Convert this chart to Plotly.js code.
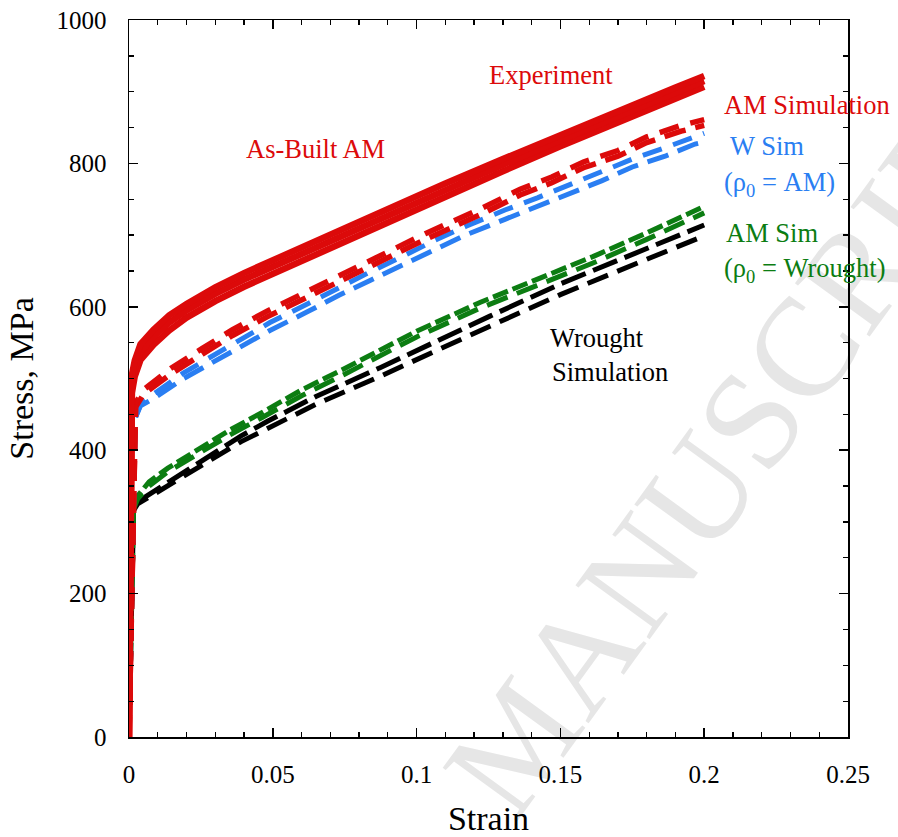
<!DOCTYPE html>
<html>
<head>
<meta charset="utf-8">
<script src="https://cdn.plot.ly/plotly-3.0.1.min.js"></script>
<style>html,body{margin:0;padding:0;background:#fff;}#chart{width:898px;height:837px;}</style>
</head>
<body>
<div id="chart"></div>
<script>
// ---- Experiment (As-Built AM), three solid red test curves ----
const expStrain = [0, 0.0003, 0.0006, 0.001, 0.002, 0.004, 0.0085, 0.014, 0.02, 0.03, 0.04, 0.05, 0.07, 0.09, 0.11, 0.13, 0.15, 0.17, 0.19, 0.2];
const expStress1 = [0, 220, 470, 505, 525, 548, 568, 588, 604, 627, 647, 665, 700, 737, 772, 806, 840, 874, 906, 922];
const expStress2 = [0, 210, 455, 492, 514, 537, 558, 578, 595, 618, 638, 656, 691, 728, 763, 798, 832, 866, 898, 915];
const expStress3 = [0, 200, 440, 480, 503, 526, 547, 567, 585, 608, 628, 646, 682, 719, 754, 789, 824, 858, 890, 907];

// ---- AM Simulation (red dashed) ----
const amSimStrain = [0, 0.0023, 0.005, 0.0145, 0.0255, 0.036, 0.048, 0.0585, 0.081, 0.103, 0.123, 0.136, 0.147, 0.158, 0.17, 0.18, 0.192, 0.2];
const amSimStress1 = [0, 466, 484, 514, 542, 568, 594, 615, 660, 702, 738, 764, 781, 802, 818, 837, 853, 861];
const amSimStress2 = [0, 460, 478, 506, 534, 560, 586, 607, 652, 694, 730, 756, 773, 794, 810, 829, 845, 853];

// ---- W Sim (rho0 = AM), blue dashed ----
const wSimStrain = [0, 0.0022, 0.004, 0.0085, 0.019, 0.0305, 0.041, 0.049, 0.062, 0.073, 0.084, 0.095, 0.106, 0.117, 0.1307, 0.142, 0.1533, 0.1645, 0.175, 0.1864, 0.1968, 0.2];
const wSimStress1 = [0, 445, 462, 472, 500, 525, 548, 567, 593, 616, 637, 658, 680, 700, 722, 740, 757, 776, 795, 810, 827, 830];
const wSimStress2 = [0, 445, 464, 478, 508, 535, 558, 578, 604, 627, 649, 670, 692, 712, 735, 752, 770, 788, 806, 822, 838, 842];

// ---- AM Sim (rho0 = Wrought), green dashed ----
const gSimStrain = [0, 0.0016, 0.003, 0.007, 0.0135, 0.024, 0.035, 0.046, 0.06, 0.075, 0.0873, 0.1, 0.122, 0.15, 0.1613, 0.18, 0.2];
const gSimStress1 = [0, 320, 336, 356, 375, 401, 428, 452, 484, 514, 540, 566, 606, 652, 670, 703, 740];
const gSimStress2 = [0, 318, 332, 350, 370, 395, 421, 445, 476, 506, 532, 558, 598, 643, 661, 694, 731];

// ---- Wrought Simulation, black dashed ----
const bSimStrain = [0, 0.0016, 0.003, 0.0085, 0.0185, 0.029, 0.039, 0.048, 0.065, 0.0873, 0.105, 0.1255, 0.15, 0.175, 0.2];
const bSimStress1 = [0, 318, 328, 342, 368, 395, 420, 440, 475, 515, 549, 587, 632, 673, 714];
const bSimStress2 = [0, 316, 325, 338, 362, 388, 412, 430, 464, 503, 536, 573, 617, 658, 699];

// ---- Axis ticks ----
const xTickVals = [0, 0.05, 0.1, 0.15, 0.2, 0.25];
const xTickText = ["0", "0.05", "0.1", "0.15", "0.2", "0.25"];
const yTickVals = [0, 200, 400, 600, 800, 1000];
const yTickText = ["0", "200", "400", "600", "800", "1000"];

const RED = '#dc0a0a', BLUE = '#2a7ef2', GREEN = '#0c7d12', BLACK = '#000000';
const DASH = '22px,10px';
const FONT = "'Liberation Serif', 'Times New Roman', serif";

function tr(x, y, color, dash, width) {
  return {x: x, y: y, type: 'scatter', mode: 'lines', hoverinfo: 'skip',
          line: {color: color, width: width, dash: dash}};
}

const traces = [
  tr(bSimStrain, bSimStress2, BLACK, DASH, 5),
  tr(bSimStrain, bSimStress1, BLACK, '26px,8px', 5),
  tr(gSimStrain, gSimStress2, GREEN, DASH, 5),
  tr(gSimStrain, gSimStress1, GREEN, '16px,5px', 5),
  tr(wSimStrain, wSimStress1, BLUE, DASH, 5),
  tr(wSimStrain, wSimStress2, BLUE, '20px,12px', 5),
  tr(amSimStrain, amSimStress2, RED, DASH, 5.5),
  tr(amSimStrain, amSimStress1, RED, '20px,12px', 5.5),
  tr(expStrain, expStress3, RED, 'solid', 6.5),
  tr(expStrain, expStress2, RED, 'solid', 6.5),
  tr(expStrain, expStress1, RED, 'solid', 6.5)
];

function ann(text, x, y, color, xanchor) {
  return {text: text, x: x, y: y, xref: 'x', yref: 'y', showarrow: false,
          xanchor: xanchor || 'center', yanchor: 'middle',
          font: {family: FONT, size: 26.5, color: color}};
}

const layout = {
  width: 898, height: 837,
  margin: {l: 129, r: 50, t: 20, b: 100},
  paper_bgcolor: '#ffffff', plot_bgcolor: '#ffffff',
  showlegend: false, hovermode: false,
  font: {family: FONT, color: '#000'},
  xaxis: {
    range: [0, 0.25], tickvals: xTickVals, ticktext: xTickText,
    showgrid: false, zeroline: false, showline: true, linecolor: '#000', linewidth: 1.5,
    mirror: 'allticks', ticks: 'inside', ticklen: 9, tickwidth: 1.5, tickcolor: '#000',
    minor: {dtick: 0.01, tick0: 0, ticks: 'inside', ticklen: 5, tickwidth: 1.3, tickcolor: '#000', showgrid: false},
    tickfont: {family: FONT, size: 25, color: '#000'},
    ticklabelstandoff: 14,
    title: {text: 'Strain', font: {family: FONT, size: 34, color: '#000'}, standoff: 20}
  },
  yaxis: {
    range: [0, 1000], tickvals: yTickVals, ticktext: yTickText,
    showgrid: false, zeroline: false, showline: true, linecolor: '#000', linewidth: 1.5,
    mirror: 'allticks', ticks: 'inside', ticklen: 9, tickwidth: 1.5, tickcolor: '#000',
    minor: {dtick: 50, tick0: 0, ticks: 'inside', ticklen: 5, tickwidth: 1.3, tickcolor: '#000', showgrid: false},
    tickfont: {family: FONT, size: 25, color: '#000'},
    ticklabelstandoff: 16,
    title: {text: 'Stress, MPa', font: {family: FONT, size: 34, color: '#000'}, standoff: 12}
  },
  shapes: [{
    type: 'line', xref: 'paper', yref: 'paper', layer: 'below',
    x0: 0.67, y0: 0.21, x1: 1.0, y1: 0.665,
    line: {color: 'rgba(0,0,0,0)', width: 0},
    label: {text: 'MANUSCRIPT', textposition: 'middle', textangle: 'auto', yanchor: 'middle',
            font: {family: FONT, size: 140, color: '#e6e6e6'}}
  }],
  annotations: [
    ann('Experiment', 0.1467, 923, RED),
    ann('As-Built AM', 0.065, 820, RED),
    ann('AM Simulation', 0.2062, 881, RED, 'left'),
    ann('W Sim', 0.2083, 824, BLUE, 'left'),
    ann('(ρ<sub>0</sub> = AM)', 0.2062, 771, BLUE, 'left'),
    ann('AM Sim', 0.2069, 703, GREEN, 'left'),
    ann('(ρ<sub>0</sub> = Wrought)', 0.2062, 651, GREEN, 'left'),
    ann('Wrought', 0.1627, 556, BLACK),
    ann('Simulation', 0.1672, 509, BLACK)
  ]
};

Plotly.newPlot('chart', traces, layout, {displayModeBar: false, staticPlot: true});
</script>
</body>
</html>
